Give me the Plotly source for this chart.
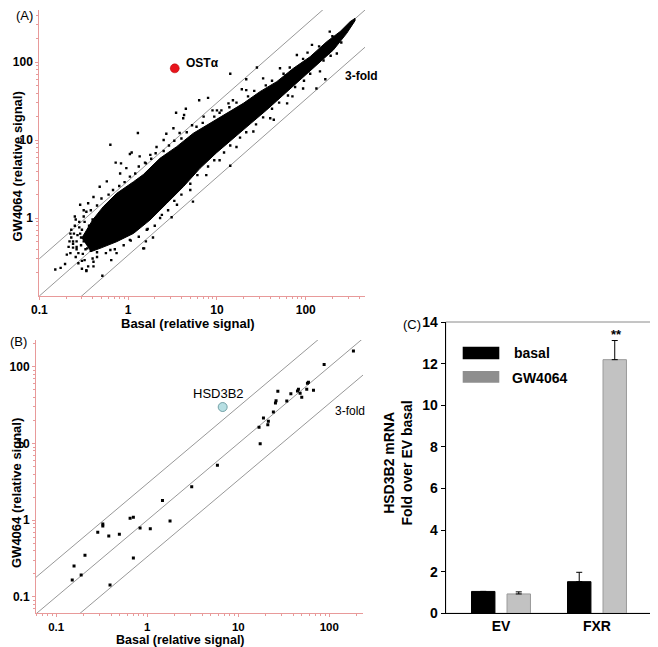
import plotly.graph_objects as go

# ---------------- panel A : microarray scatter (basal vs GW4064) ----------------
# outline of the solid core of the point cloud
core_upper_x = [0.30, 0.40, 0.526, 0.743, 1.15, 1.48, 2.28, 3.52, 5.42, 8.35,
                12.9, 19.8, 30.5, 47.1, 72.5, 112, 172, 243, 315, 359]
core_upper_y = [0.55, 0.95, 1.40, 2.07, 2.92, 3.6, 5.82, 8.22, 12.2, 16.4,
                22.0, 29.5, 41.7, 56.0, 83, 117, 182, 245, 329, 363]
core_lower_x = [359, 289, 205, 133, 86, 56, 36.3, 23.6, 15.3, 9.93,
                6.44, 4.19, 2.72, 1.76, 1.15, 0.743, 0.482, 0.38]
core_lower_y = [339, 233, 143, 91.6, 58.7, 37.8, 24.3, 16.0, 10.5, 6.89,
                4.33, 2.52, 1.54, 0.94, 0.635, 0.497, 0.408, 0.37]

# loose spots around the core (log10 of the signal)
spots_log_basal = [1.15, 1.33, 1.45, 1.28, 0.90, 0.80, 0.95, 1.13, 1.05, 0.54,
                   0.63, 0.65, 0.62, 0.11, -0.20, 0.04, -0.08, -0.14, 0.25, 0.19,
                   0.43, 0.51, 0.02, -0.54, -0.60, -0.62, -0.69, -0.71, -0.49, -0.47,
                   -0.45, -0.39, -0.29, -0.13, 0.17, 0.20, 0.73, 1.15, 1.64, -0.82,
                   -0.76, -0.52, -0.47, -0.67, -0.65, -0.64, 2.22, 2.12, 1.85, 0.49,
                   0.28, 0.18, -0.19, -0.59, -0.46,
                   -0.32, -0.24, -0.39, -0.45, -0.50, -0.09, -0.02, 0.13, 0.32, 0.40,
                   0.58, 0.72, 0.85, 1.00, 1.18, 1.33, 1.52, 1.71, 1.90, 2.07, 2.27,
                   2.35, 2.16, 1.97, 1.79, 1.60, 1.41, 1.22, 1.03, 0.88, 0.70,
                   0.55, 0.36, 0.21, 0.02, -0.20, -0.35,
                   -0.58, -0.54, -0.65, -0.56, -0.39]
spots_log_gw = [1.85, 1.78, 1.93, 1.65, 1.54, 1.51, 1.38, 1.47, 1.38, 1.35,
                1.32, 1.40, 1.28, 1.09, 0.94, 0.84, 0.70, 0.71, 0.81, 0.71,
                1.08, 1.15, 0.82, 0.17, 0.02, -0.30, -0.47, -0.59, -0.54, -0.67,
                -0.62, -0.56, -0.74, -0.45, -0.39, -0.30, 0.21, 0.67, 1.26, -0.66,
                -0.64, -0.65, -0.68, -0.37, -0.20, -0.15, 1.78, 1.66, 1.56, 0.01,
                -0.25, -0.39, -0.54, -0.50, -0.39,
                0.40, 0.47, 0.27, 0.19, 0.10, 0.57, 0.64, 0.79, 0.91, 1.00,
                1.09, 1.19, 1.30, 1.38, 1.51, 1.64, 1.79, 1.92, 2.09, 2.22, 2.39,
                2.11, 1.88, 1.66, 1.47, 1.28, 1.11, 0.91, 0.74, 0.55, 0.36,
                0.17, 0.00, -0.15, -0.28, -0.41, -0.50,
                -0.37, -0.20, -0.45, -0.58, -0.62]

# spots hugging the edges of the core (log10 of the signal)
edge_log_basal = [-0.55, -0.50, -0.42, -0.35, -0.30, -0.22, -0.17, -0.10, -0.04, 0.02,
                  0.08, 0.12, 0.20, 0.26, 0.31, 0.40, 0.46, 0.52, 0.60, 0.66,
                  0.77, 0.84, 0.97, 1.03, 1.14, 1.22, 1.35, 1.42, 1.55, 1.62,
                  1.75, 1.82, 1.97, 2.02, 2.15, 2.30,
                  2.40, 2.28, 2.20, 2.05, 1.98, 1.88, 1.80, 1.70, 1.62, 1.52,
                  1.44, 1.33, 1.26, 1.15, 1.08, 0.97, 0.90, 0.78, 0.70, 0.60,
                  0.52, 0.45, 0.38, 0.30, 0.22, 0.12, 0.03, -0.05, -0.15, -0.25,
                  -0.40, -0.52, -0.62, -0.64, -0.58,
                  -0.50, -0.52, -0.55, -0.48, -0.57, -0.60, -0.53, -0.47, -0.49, -0.56,
                  -0.62, -0.66, -0.58, -0.51, -0.45,
                  -0.44, -0.42, -0.40, -0.38, -0.44, -0.53, -0.61, -0.59, -0.47, -0.35]
edge_log_gw = [-0.12, 0.02, 0.10, 0.16, 0.25, 0.30, 0.36, 0.41, 0.46, 0.53,
               0.57, 0.66, 0.70, 0.76, 0.83, 0.86, 0.93, 0.99, 1.02, 1.10,
               1.17, 1.22, 1.30, 1.35, 1.42, 1.48, 1.56, 1.63, 1.70, 1.76,
               1.85, 1.93, 2.04, 2.12, 2.20, 2.33,
               2.25, 2.08, 2.02, 1.85, 1.76, 1.68, 1.57, 1.48, 1.40, 1.29,
               1.20, 1.10, 1.03, 0.93, 0.84, 0.74, 0.66, 0.55, 0.44, 0.30,
               0.22, 0.10, 0.04, -0.10, -0.14, -0.24, -0.29, -0.35, -0.40, -0.45,
               -0.52, -0.55, -0.33, -0.25, -0.40,
               -0.30, -0.15, -0.05, -0.40, -0.22, -0.10, -0.35, -0.20, -0.05, -0.45,
               -0.38, -0.30, -0.30, -0.46, -0.30,
               -0.10, -0.42, -0.02, -0.35, -0.25, -0.25, -0.20, -0.02, 0.08, -0.44]

ost_basal = [3.35]
ost_gw = [83]

# ---------------- panel B : selected genes ----------------
b_basal = [184, 87.7, 57.5, 59, 56.5, 67, 45.8, 44.7, 47.8, 49.8,
           37.8, 27.2, 34.1, 26.0, 25.6, 24.3, 18.9, 21.4, 21.1, 16.9,
           17.4, 5.9, 3.08, 1.47, 1.78, 1.08, 0.834, 0.704, 0.648, 0.494,
           0.378, 0.325, 0.325, 0.286, 0.704, 0.207, 0.157, 0.188, 0.150, 0.39]
b_gw = [161, 107, 61, 63, 50.9, 49.4, 51, 48.4, 45.2, 40,
        44.7, 48, 35.9, 36.2, 33.7, 25.8, 21.5, 19.5, 17.6, 16.3,
        9.9, 5.2, 2.73, 1.80, 0.975, 0.774, 0.79, 1.09, 1.06, 0.653,
        0.622, 0.892, 0.84, 0.695, 0.321, 0.348, 0.252, 0.193, 0.166, 0.143]

hsd_basal = [6.74]
hsd_gw = [29.9]

# ---------------- panel C : qPCR ----------------
groups = ["EV", "FXR"]
basal_mean = [1.05, 1.52]
basal_err = [0.0, 0.45]
gw_mean = [0.93, 12.19]
gw_err = [0.1, 0.92]

fold_factors = [1 / 3, 1, 3]
guide_x = [0.01, 2000]

PINK = "#e89a9a"
FONT = "Liberation Sans, Arial, sans-serif"

# the page puts the figure 8px in from the top-left corner of the window,
# so the figure is that much smaller and positions are given in window pixels
OFFSET = 8
W, H = 658 - OFFSET, 647 - OFFSET


def px(x):
    return (x - OFFSET) / W


def py(y):
    return 1 - (y - OFFSET) / H


def minor_vals():
    return [m * 10.0 ** k for k in range(-2, 4) for m in range(2, 10)]


fig = go.Figure()

# fold-change guide lines (under the points)
for xa, ya in (("x", "y"), ("x2", "y2")):
    for f in fold_factors:
        fig.add_trace(go.Scatter(
            x=guide_x, y=[v * f for v in guide_x], mode="lines",
            line=dict(color="#8c8c8c", width=0.9),
            xaxis=xa, yaxis=ya, hoverinfo="skip"))

fig.add_trace(go.Scatter(
    x=core_upper_x + core_lower_x, y=core_upper_y + core_lower_y,
    mode="lines", fill="toself", fillcolor="black",
    line=dict(color="black", width=1), xaxis="x", yaxis="y"))

fig.add_trace(go.Scatter(
    x=[10 ** v for v in spots_log_basal + edge_log_basal],
    y=[10 ** v for v in spots_log_gw + edge_log_gw],
    mode="markers", marker=dict(color="black", size=2.4, symbol="square"),
    xaxis="x", yaxis="y"))

fig.add_trace(go.Scatter(
    x=ost_basal, y=ost_gw, mode="markers",
    marker=dict(color="#e8141c", size=9, line=dict(color="#b00000", width=0.5)),
    xaxis="x", yaxis="y"))

fig.add_trace(go.Scatter(
    x=b_basal, y=b_gw, mode="markers",
    marker=dict(color="black", size=3, symbol="square"),
    xaxis="x2", yaxis="y2"))

fig.add_trace(go.Scatter(
    x=hsd_basal, y=hsd_gw, mode="markers",
    marker=dict(color="#b7dfe3", size=9, line=dict(color="#5d8f96", width=0.8)),
    xaxis="x2", yaxis="y2"))

fig.add_trace(go.Bar(
    x=groups, y=basal_mean, name="basal",
    marker=dict(color="black", line=dict(color="black", width=1)),
    error_y=dict(type="data", symmetric=False, array=basal_err,
                 arrayminus=[0, 0], color="black", thickness=1, width=3),
    xaxis="x3", yaxis="y3"))

fig.add_trace(go.Bar(
    x=groups, y=gw_mean, name="GW4064",
    marker=dict(color="#c2c2c2", line=dict(color="#9a9a9a", width=1)),
    error_y=dict(type="data", symmetric=False, array=gw_err,
                 arrayminus=[0, 0], color="black", thickness=1, width=3),
    xaxis="x3", yaxis="y3"))

log_axis = dict(
    type="log", showgrid=False, zeroline=False, showline=True, automargin=False,
    linecolor=PINK, linewidth=1, ticks="outside", ticklen=3,
    tickcolor=PINK, tickfont=dict(family=FONT, size=12, color="black", weight="bold"),
    minor=dict(ticks="outside", ticklen=2, tickcolor=PINK, tickmode="array",
               tickvals=minor_vals()),
)

bold = dict(family=FONT, color="black", weight="bold")

fig.update_layout(
    width=W, height=H, autosize=False,
    margin=dict(l=0, r=0, t=0, b=0, pad=0),
    paper_bgcolor="white", plot_bgcolor="white",
    showlegend=False,
    barmode="group", bargap=0.26, bargroupgap=0.34,
    xaxis=dict(log_axis, domain=[px(39.3), px(365)], range=[-1, 2.667], anchor="y",
               tickvals=[0.1, 1, 10, 100], ticktext=["0.1", "1", "10", "100"]),
    yaxis=dict(log_axis, domain=[py(296), py(10)], range=[-1, 2.667], anchor="x",
               tickvals=[1, 10, 100], ticktext=["1", "10", "100"]),
    xaxis2=dict(log_axis, domain=[px(36), px(363)], range=[-1.222, 2.37], anchor="y2",
                tickfont=dict(family=FONT, size=11.5, color="black", weight="bold"),
                tickvals=[0.1, 1, 10, 100], ticktext=["0.1", "1", "10", "100"]),
    yaxis2=dict(log_axis, domain=[py(613.3), py(340)], range=[-1.215, 2.35], anchor="x2",
                tickvals=[0.1, 1, 10, 100], ticktext=["0.1", "1", "10", "100"]),
    xaxis3=dict(domain=[px(445.7), px(654)], range=[-0.576, 1.594], anchor="y3",
                showline=True, linecolor="black", linewidth=1, ticks="",
                showgrid=False, zeroline=False, automargin=False,
                tickfont=dict(bold, size=14)),
    yaxis3=dict(domain=[py(613.3), py(322)], range=[0, 14], dtick=2, anchor="x3",
                showline=True, linecolor="black", linewidth=1, ticks="outside",
                ticklen=4, tickcolor="black", showgrid=False, zeroline=False,
                automargin=False, tickfont=dict(bold, size=14)),
)

# frame round panel C and its legend keys
fig.add_shape(type="rect", xref="paper", yref="paper",
              x0=px(445.7), x1=px(654), y0=py(613.3), y1=py(322),
              line=dict(color="#8a8a8a", width=1), layer="below")
fig.add_shape(type="rect", xref="paper", yref="paper",
              x0=px(462.7), x1=px(499.3), y0=py(359.3), y1=py(346.7),
              fillcolor="black", line=dict(width=0))
fig.add_shape(type="rect", xref="paper", yref="paper",
              x0=px(462.7), x1=px(499.3), y0=py(382.7), y1=py(371),
              fillcolor="#8e8e8e", line=dict(width=0))

regular = dict(family=FONT, color="black")
notes = [
    # text, x, y (window pixels), xanchor, font, textangle
    ("(A)", 24, 16, "center", dict(regular, size=13), 0),
    ("(B)", 18, 341, "center", dict(regular, size=13), 0),
    ("(C)", 412, 324, "center", dict(regular, size=13), 0),
    ("Basal (relative signal)", 188, 323, "center", dict(bold, size=13), 0),
    ("GW4064 (relative signal)", 16.5, 167, "center", dict(bold, size=13), -90),
    ("Basal (relative signal)", 180, 639.5, "center", dict(bold, size=12.5), 0),
    ("GW4064 (relative signal)", 16, 493, "center", dict(bold, size=13), -90),
    ("HSD3B2 mRNA<br>Fold over EV basal", 397.5, 463, "center", dict(bold, size=14), -90),
    ("OST\u03b1", 184, 63, "left", dict(bold, size=12), 0),
    ("3-fold", 343, 76, "left", dict(bold, size=12), 0),
    ("HSD3B2", 218, 393, "center", dict(regular, size=13), 0),
    ("3-fold", 333, 411, "left", dict(regular, size=12), 0),
    ("basal", 512, 353, "left", dict(bold, size=14), 0),
    ("GW4064", 510, 378, "left", dict(bold, size=14), 0),
    ("**", 616.7, 335, "center", dict(bold, size=13), 0),
]
for text, x, y, xa, font, ang in notes:
    fig.add_annotation(text=text, x=px(x), y=py(y), xref="paper", yref="paper",
                       xanchor=xa, yanchor="middle", showarrow=False,
                       font=font, textangle=ang)

fig.write_html("out.html")
